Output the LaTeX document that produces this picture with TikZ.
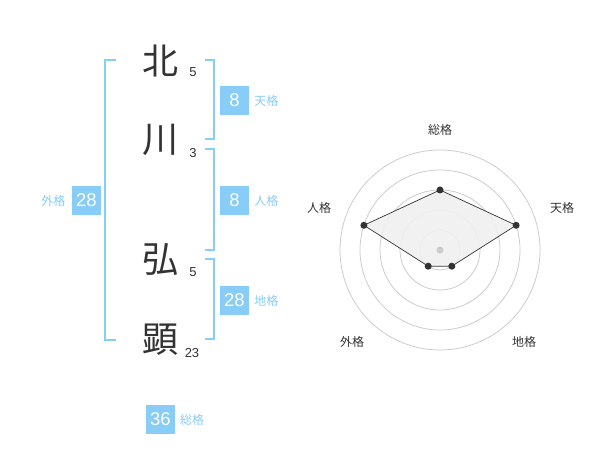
\documentclass[tikz,border=0pt]{standalone}
\usepackage{fontspec}
\setmainfont{Liberation Sans}
\newfontfamily\jp{Noto Sans CJK JP}
\definecolor{kblue}{HTML}{88CCF8}
\definecolor{ink}{HTML}{333333}
\definecolor{ring}{HTML}{CCCCCC}
\definecolor{area}{HTML}{F0F0F0}
\tikzset{
  kanji/.style={inner sep=0pt, text=ink, font=\fontsize{36}{36}\selectfont\jp},
  strokenum/.style={inner sep=0pt, text=ink, font=\fontsize{13}{13}\selectfont},
  bracket/.style={draw=kblue, line width=2pt},
  valbox/.style={fill=kblue, text=white, minimum size=29pt, inner sep=0pt, font=\fontsize{18.5}{18.5}\selectfont},
  kaku/.style={inner sep=0pt, text=kblue, font=\fontsize{12}{12}\selectfont\jp},
  axislab/.style={inner sep=0pt, text=ink, font=\fontsize{12}{12}\selectfont\jp},
  ringline/.style={draw=ring, line width=0.8pt},
  dot/.style={circle, fill=ink, inner sep=0pt, minimum size=7pt},
}
\begin{document}
\begin{tikzpicture}[x=1pt,y=-1pt]
\useasboundingbox (0,0) rectangle (600,470);
% kanji
\node[kanji] (k1) at (160,61) {北};
\node[kanji] (k2) at (160,140) {川};
\node[kanji] (k3) at (160,260) {弘};
\node[kanji] (k4) at (160,340) {顕};
\node[strokenum] (n1) at (193,72.5) {5};
\node[strokenum] (n2) at (193,153) {3};
\node[strokenum] (n3) at (193,272.5) {5};
\node[strokenum] (n4) at (192,353) {23};
% brackets
\draw[bracket] (116,60) -- (105,60) -- (105,340) -- (116,340);
\draw[bracket] (205,60) -- (214.3,60) -- (214.3,139.3) -- (205,139.3);
\draw[bracket] (205,149.3) -- (214.3,149.3) -- (214.3,250) -- (205,250);
\draw[bracket] (205,259.3) -- (214.3,259.3) -- (214.3,339.3) -- (205,339.3);
% value boxes
\node[valbox] (ten) at (234.5,100.5) {8};
\node[kaku, anchor=west] (tenl) at ([xshift=5pt]ten.east) {天格};
\node[valbox] (jin) at (234.5,200.5) {8};
\node[kaku, anchor=west] (jinl) at ([xshift=5pt]jin.east) {人格};
\node[valbox] (chi) at (234.5,300.5) {28};
\node[kaku, anchor=west] (chil) at ([xshift=5pt]chi.east) {地格};
\node[valbox] (gai) at (86.3,200.5) {28};
\node[kaku, anchor=east] (gail) at ([xshift=-6pt]gai.west) {外格};
\node[valbox] (sou) at (160.5,419.5) {36};
\node[kaku, anchor=west] (soul) at ([xshift=4.7pt]sou.east) {総格};
% radar chart
\coordinate (c) at (440,250);
\foreach \r in {20,40,60,80,100} \draw[ringline] (c) circle (\r);
\coordinate (pS) at (440,190);
\coordinate (pT) at (516.1,225.3);
\coordinate (pC) at (451.8,266.2);
\coordinate (pG) at (428.2,266.2);
\coordinate (pJ) at (363.9,225.3);
\fill[area, opacity=0.9] (pS) -- (pT) -- (pC) -- (pG) -- (pJ) -- cycle;
\draw[ink, line width=0.7pt] (pS) -- (pT) -- (pC) -- (pG) -- (pJ) -- cycle;
\node[circle, fill=ring, inner sep=0pt, minimum size=7pt] (cd) at (c) {};
\node[dot] (dS) at (pS) {};
\node[dot] (dT) at (pT) {};
\node[dot] (dC) at (pC) {};
\node[dot] (dG) at (pG) {};
\node[dot] (dJ) at (pJ) {};
\node[axislab] (aS) at (440,130) {総格};
\node[axislab] (aT) at (562,208) {天格};
\node[axislab] (aJ) at (319,208) {人格};
\node[axislab] (aG) at (352,342) {外格};
\node[axislab] (aC) at (524,342) {地格};
\end{tikzpicture}
\end{document}
